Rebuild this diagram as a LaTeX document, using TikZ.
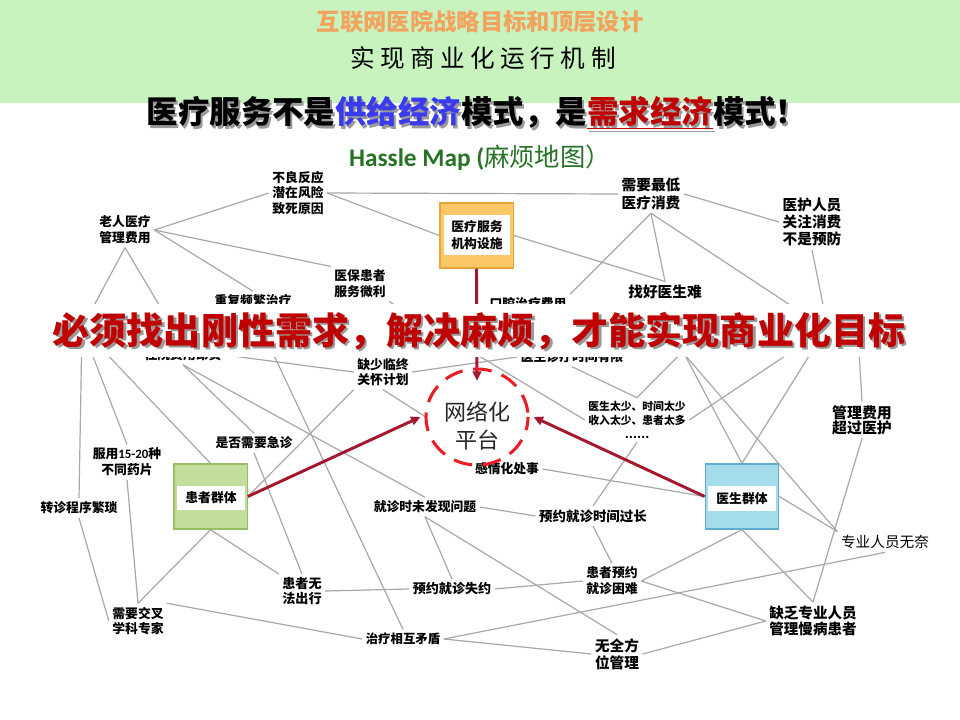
\documentclass[tikz,border=0pt]{standalone}
\usepackage{fontspec}
\setmainfont{Liberation Sans}
\newfontfamily\cjk{Noto Sans CJK SC}
\newfontfamily\cjkls[LetterSpace=22]{Noto Sans CJK SC}
\newfontfamily\calib{Carlito}
\usetikzlibrary{shapes.geometric,arrows.meta,calc}
\definecolor{bandgreen}{HTML}{C8F2BE}
\definecolor{torange}{HTML}{F2A35E}
\definecolor{tblue}{HTML}{3A3AF0}
\definecolor{dred}{HTML}{C00000}
\definecolor{hgreen}{HTML}{267326}
\definecolor{lgray}{HTML}{A8A8A8}
\definecolor{arrred}{HTML}{A3182E}
\definecolor{dashred}{HTML}{E81E25}
\definecolor{oboxf}{HTML}{FAC766}
\definecolor{oboxd}{HTML}{EBA43A}
\definecolor{gboxf}{HTML}{C2DE9E}
\definecolor{gboxd}{HTML}{97BE63}
\definecolor{bboxf}{HTML}{A5DCEB}
\definecolor{bboxd}{HTML}{5DAED0}
\newcommand\headtxt[2]{医疗服务不是{\color{#1}供给经济}模式，是{\color{#2}\underline{需求经济}}模式！}
\tikzset{
  lb/.style={font=\cjk\bfseries\fontsize{9.6}{11.8}\selectfont, align=center, inner sep=2.5pt},
  lbb/.style={font=\cjk\bfseries\fontsize{11}{13}\selectfont, align=center, inner sep=2.5pt},
  lbs/.style={font=\cjk\bfseries\fontsize{8.1}{10.5}\selectfont, align=center, inner sep=2.5pt},
  ln/.style={draw=lgray, line width=0.9pt},
  redarr/.style={draw=arrred, line width=2.2pt, -{Triangle[length=7pt,width=6.5pt]}},
  outbox/.style={draw=#1d, fill=#1f, line width=1pt, minimum width=55pt, minimum height=48.75pt, inner sep=0pt},
  inbox/.style={fill=white, minimum width=50pt, minimum height=18.5pt, inner sep=0pt, font=\cjk\bfseries\fontsize{9.6}{11.8}\selectfont},
}
\begin{document}
\begin{tikzpicture}[x=0.75pt,y=-0.75pt]
\useasboundingbox (0,0) rectangle (960,720);
\fill[white] (0,0) rectangle (960,720);
% header
\fill[bandgreen] (0,0) rectangle (960,103);
\node (t1) at (480,22) {\cjk\bfseries\fontsize{17.5}{18}\selectfont\color{torange}互联网医院战略目标和顶层设计};
\node (t2) at (483,58) {\cjkls\fontsize{18.5}{19}\selectfont 实现商业化运行机制};
\node at (479,115.5) {\cjk\bfseries\fontsize{23.6}{24}\selectfont\color{black!40}\headtxt{black!40}{black!40}};
\node (t3) at (477,113) {\cjk\bfseries\fontsize{23.6}{24}\selectfont\headtxt{tblue}{dred}};
\node (hm) at (480,158) {\color{hgreen}{\calib\bfseries\fontsize{19}{20}\selectfont Hassle Map (}{\cjk\fontsize{19}{20}\selectfont 麻烦地图）}};

% nodes
\node[lb] (buliang) at (298,193) {不良反应\\潜在风险\\致死原因};
\node[lb] (laoren) at (125,230) {老人医疗\\管理费用};
\node[outbox=obox] (box1) at (476.5,235.5) {};
\node[inbox, align=center, minimum height=30pt, font=\cjk\bfseries\fontsize{9.6}{12.5}\selectfont] (box1t) at (477,235) {医疗服务\\机构设施};
\node[lb] (yibao) at (360,284) {医保患者\\服务微利};
\node[lb] (chongfu) at (253,301) {重复频繁治疗};
\node[lb] (kouqiang) at (528,304) {口腔治疗费用};
\node[lbb] (xuyao) at (651,194) {需要最低\\医疗消费};
\node[lbb] (yihu) at (812,222) {医护人员\\关注消费\\不是预防};
\node[lbb] (zhaohao) at (665,292) {找好医生难};
\node[lb] (zhuyuan) at (183,355) {住院费用昂贵};
\node[lb] (dnode) at (572,357) {医生诊疗时间有限};
\node[lb] (quesao) at (383,372) {缺少临终\\关怀计划};
\node[lbs] (taishao) at (637,420) {医生太少、时间太少\\收入太少、患者太多\\……};
\node[lbb, font=\cjk\bfseries\fontsize{11.2}{11.5}\selectfont] (guanli) at (862,420) {管理费用\\超过医护};
\node[lb] (shifou) at (254,443) {是否需要急诊};
\node[lb] (fuyong) at (127,462) {服用{\calib\bfseries 15-20}种\\不同药片};
\node[lb] (zhuanzhen) at (79,508) {转诊程序繁琐};
\node[outbox=gbox] (hzbox) at (210.5,496.5) {};
\node[inbox, minimum width=51pt, minimum height=18pt] (hzt) at (211,498) {患者群体};
\node[lb] (jiuzhen) at (425,507) {就诊时未发现问题};
\node[lb] (ganqing) at (507,469) {感情化处事};
\node[lb, font=\cjk\bfseries\fontsize{10.1}{12}\selectfont] (shijian) at (593,516) {预约就诊时间过长};
\node[outbox=bbox] (ysbox) at (742,496.5) {};
\node[inbox, minimum width=51pt, minimum height=18.75pt] (yst) at (742,498.5) {医生群体};
\node[font=\cjk\fontsize{11}{12}\selectfont, inner sep=2.5pt, text=black] (zhuanye) at (885,542) {专业人员无奈};
\node[lb, font=\cjk\bfseries\fontsize{9.8}{10.8}\selectfont] (wufa) at (302,591) {患者无\\法出行};
\node[lb, font=\cjk\bfseries\fontsize{9.8}{12}\selectfont] (shiyue) at (452,589) {预约就诊失约};
\node[lb] (yuyue) at (612,581) {患者预约\\就诊困难};
\node[lb] (jiaocha) at (138,621) {需要交叉\\学科专家};
\node[lb, font=\cjk\bfseries\fontsize{9.3}{12}\selectfont] (zhiliao) at (403,639) {治疗相互矛盾};
\node[lbb] (wuquan) at (617,654) {无全方\\位管理};
\node[lbb, font=\cjk\bfseries\fontsize{10.9}{12.6}\selectfont] (quefa) at (813,621) {缺乏专业人员\\管理慢病患者};

% hidden points behind the banner
\coordinate (hA) at (82,328);
\coordinate (hC1) at (828,330);
\coordinate (hC2) at (858,335);
\coordinate (hG1) at (809,340);
\coordinate (hG2) at (819,340);
\coordinate (hH1) at (694,340);
\coordinate (hH2) at (677,340);
\coordinate (hH3) at (672,340);

% network circle
\node[ellipse, minimum width=76.5pt, minimum height=72pt, inner sep=0pt] (net) at (477,417) {};

% connectors
\draw[ln] (laoren.east) -- (buliang.west);
\draw[ln] (buliang.east) -- (xuyao.west);
\draw[ln] (buliang.east) -- (box1.west);
\draw[ln] (laoren.east) -- (yibao.north west);
\draw[ln] (laoren.east) -- (chongfu.north);
\draw[ln] (laoren.south) -- (hA);
\draw[ln] (laoren.south) -- (zhuyuan.north);
\draw[ln] (box1.east) -- (zhaohao.north);
\draw[ln] (xuyao.south) -- (zhaohao.north);
\draw[ln] (xuyao.south) -- (kouqiang.north east);
\draw[ln] (xuyao.south) -- (hC1);
\draw[ln] (xuyao.east) -- (yihu.west);
\draw[ln] (yihu.south) -- (hC1);
\draw[ln] (hA) -- (zhuanzhen.north);
\draw[ln] (hA) -- (fuyong.north);
\draw[ln] (hA) -- (hzbox.north);
\draw[ln] (zhuyuan.south) -- (shifou.north);
\draw[ln] (zhuyuan.south) -- (jiuzhen.north);
\draw[ln] (zhuyuan.east) -- (quesao.west);
\draw[ln] (chongfu.south) -- (zhiliao.north);
\draw[ln] (zhuanzhen.south) -- (jiaocha.west);
\draw[ln] (fuyong.south) -- (jiaocha.north);
\draw[ln] (hzbox.south) -- (jiaocha.north);
\draw[ln] (hzbox.south) -- (wufa.north west);
\draw[ln] (wufa.east) -- (shiyue.west);
\draw[ln] (jiaocha.north east) -- (zhiliao.west);
\draw[ln] (shifou.south) -- (wufa.north);
\draw[ln] (quesao.south west) -- (hzbox.east);
\draw[ln] (quesao.south) -- (net.west);
\draw[ln] (quesao.east) -- (dnode.west);
\draw[ln] (yibao.south east) -- (taishao.west);
\draw[ln] (jiuzhen.east) -- (shijian.west);
\draw[ln] (ganqing.east) -- (ysbox.west);
\draw[ln] (taishao.south) -- (shijian.north);
\draw[ln] (taishao.east) -- (hG1);
\draw[ln] (dnode.south) -- (taishao.north);
\draw[ln] (hH1) -- (taishao.north);
\draw[ln] (hH2) -- (ysbox.north);
\draw[ln] (hH3) -- (zhuanye.north west);
\draw[ln] (hG2) -- (ysbox.north);
\draw[ln] (hC2) -- (guanli.north);
\draw[ln] (guanli.south) -- (quefa.north);
\draw[ln] (ysbox.east) -- (zhuanye.north west);
\draw[ln] (ysbox.south) -- (yuyue.east);
\draw[ln] (ysbox.south) -- (quefa.north);
\draw[ln] (zhuanye.south) -- (zhiliao.east);
\draw[ln] (yuyue.east) -- (quefa.west);
\draw[ln] (wuquan.east) -- (quefa.west);
\draw[ln] (zhiliao.east) -- (wuquan.west);
\draw[ln] (shiyue.east) -- (yuyue.west);
\draw[ln] (jiuzhen.south) -- (shiyue.north);
\draw[ln] (jiuzhen.south) -- (wuquan.north);
\draw[ln] (shijian.south) -- (yuyue.north);

% red arrows
\draw[redarr] (box1.south) -- ([yshift=-9pt]net.north);
\draw[redarr] (hzbox.east) -- ([xshift=-4pt]net.west);
\draw[redarr] (ysbox.west) -- ([xshift=4pt]net.east);

% dashed circle and its text
\draw[dashred, line width=2.3pt, dash pattern=on 14pt off 8pt, dash phase=4pt] (net.center) ellipse [x radius=51, y radius=48];
\node[font=\cjk\fontsize{16.5}{21}\selectfont, align=center, text=black!85] (nett) at (477,426) {网络化\\平台};

% banner
\fill[white] (48,304) rectangle (912,357);
\node at (481.5,333.5) {\cjk\bfseries\fontsize{27.8}{28}\selectfont\color{black!40}必须找出刚性需求，解决麻烦，才能实现商业化目标};
\node (big) at (479,331) {\cjk\bfseries\fontsize{27.8}{28}\selectfont\color{dred}必须找出刚性需求，解决麻烦，才能实现商业化目标};
\end{tikzpicture}
\end{document}
